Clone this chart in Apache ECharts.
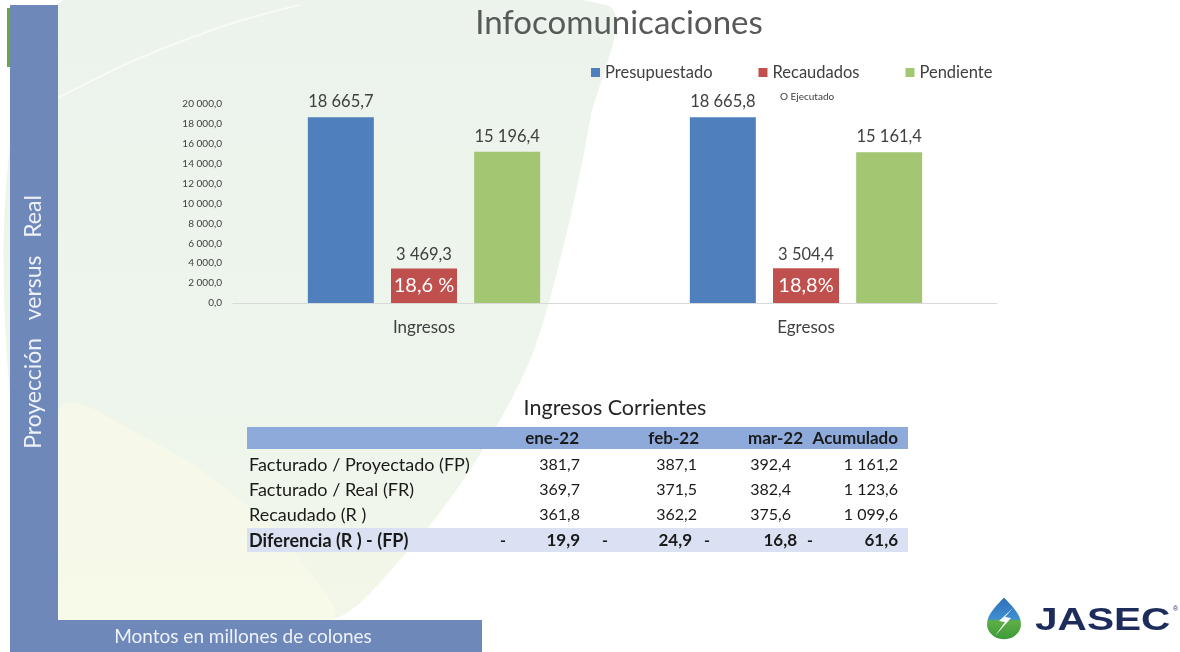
<!DOCTYPE html>
<html>
<head>
<meta charset="utf-8">
<script src="https://cdn.jsdelivr.net/npm/echarts@6/dist/echarts.min.js"></script>
<style>html,body{margin:0;padding:0;background:#fff}#c{width:1180px;height:652px}</style>
</head>
<body>
<div id="c"></div>
<script>
// ---- chart data ----
const categories = ['Ingresos', 'Egresos'];
const seriesNames = ['Presupuestado', 'Recaudados', 'Pendiente'];
const presupuestado = [18665.7, 18665.8];
const recaudados = [3469.3, 3504.4];
const pendiente = [15196.4, 15161.4];
const recaudadoPct = ['18,6 %', '18,8%'];
const yMin = 0, yMax = 20000, yInterval = 2000;

// ---- table data ----
const tableTitle = 'Ingresos Corrientes';
const tableCols = ['ene-22', 'feb-22', 'mar-22', 'Acumulado'];
const tableRowNames = ['Facturado / Proyectado (FP)', 'Facturado / Real (FR)', 'Recaudado (R )'];
const facturadoProyectado = [381.7, 387.1, 392.4, 1161.2];
const facturadoReal = [369.7, 371.5, 382.4, 1123.6];
const recaudado = [361.8, 362.2, 375.6, 1099.6];
const diferenciaName = 'Diferencia (R ) - (FP)';
const diferencia = [-19.9, -24.9, -16.8, -61.6];

const FONT = 'Lato, "Open Sans", sans-serif';
const colors = ['#4f7fbc', '#c0504d', '#a3c673'];

function fmt(v, d) {
  const s = Math.abs(v).toFixed(d);
  let [ip, dp] = s.split('.');
  ip = ip.replace(/\B(?=(\d{3})+(?!\d))/g, ' ');
  return ip + (dp !== undefined ? ',' + dp : '');
}

const chart = echarts.init(document.getElementById('c'), null, {renderer: 'canvas'});

const g = [];
// background
g.push({type: 'rect', z: -10, shape: {x: 0, y: 0, width: 1180, height: 652}, style: {fill: '#ffffff'}});
g.push({type: 'polygon', z: -9, shape: {points: [[58, 5], [606, 5], [590, 120], [565, 240], [530, 360], [470, 470], [400, 560], [330, 620], [58, 620]], smooth: 0.3},
  style: {fill: {type: 'linear', x: 0, y: 0, x2: 0, y2: 1, colorStops: [{offset: 0, color: '#ebf3ec'}, {offset: 0.6, color: '#edf5ec'}, {offset: 1, color: '#f3f7e8'}]}}});
g.push({type: 'polygon', z: -9, shape: {points: [[58, 410], [150, 440], [240, 500], [300, 560], [330, 620], [58, 620]], smooth: 0.4},
  style: {fill: 'rgba(248,250,232,0.8)'}});
g.push({type: 'polyline', z: -8, shape: {points: [[58, 98], [140, 58], [230, 24], [300, 5]], smooth: 0.4}, style: {stroke: 'rgba(255,255,255,0.6)', lineWidth: 2, fill: null}});
// left band
g.push({type: 'rect', z: -5, shape: {x: 10, y: 5, width: 48, height: 647}, style: {fill: '#6e88b9'}});
g.push({type: 'rect', z: -5, shape: {x: 10, y: 620, width: 472, height: 32}, style: {fill: '#6e88b9'}});
g.push({type: 'rect', z: -5, shape: {x: 7, y: 8, width: 3, height: 59}, style: {fill: '#6aa83a'}});
g.push({type: 'text', rotation: Math.PI / 2, x: 34, y: 322, style: {text: 'Proyección   versus   Real', fill: '#eef2f8', font: '23px ' + FONT, textAlign: 'center', textVerticalAlign: 'middle'}});
g.push({type: 'text', x: 243, y: 637, style: {text: 'Montos en millones de colones', fill: '#eef2f8', font: '19px ' + FONT, textAlign: 'center', textVerticalAlign: 'middle'}});
// small note
g.push({type: 'text', x: 780, y: 97, style: {text: 'O Ejecutado', fill: '#404040', font: '10px ' + FONT, textAlign: 'left', textVerticalAlign: 'middle'}});

// table
g.push({type: 'text', x: 615, y: 408, style: {text: tableTitle, fill: '#262626', font: '21.5px ' + FONT, textAlign: 'center', textVerticalAlign: 'middle'}});
g.push({type: 'rect', shape: {x: 247, y: 427, width: 661, height: 22}, style: {fill: '#8eaadb'}});
g.push({type: 'rect', shape: {x: 247, y: 528, width: 661, height: 24}, style: {fill: '#d9e1f2'}});
const headRight = [579, 699, 803, 898];
tableCols.forEach((c, i) => g.push({type: 'text', x: headRight[i], y: 439, style: {text: c, fill: '#1a1a1a', font: 'bold 17px ' + FONT, textAlign: 'right', textVerticalAlign: 'middle'}}));
const valRight = [580, 697, 791, 898];
const rowsData = [facturadoProyectado, facturadoReal, recaudado];
const rowY = [465, 490, 515];
tableRowNames.forEach((n, r) => {
  g.push({type: 'text', x: 249, y: rowY[r], style: {text: n, fill: '#1a1a1a', font: '18px ' + FONT, textAlign: 'left', textVerticalAlign: 'middle'}});
  rowsData[r].forEach((v, i) => g.push({type: 'text', x: valRight[i], y: rowY[r], style: {text: fmt(v, 1), fill: '#1a1a1a', font: '16px ' + FONT, textAlign: 'right', textVerticalAlign: 'middle'}}));
});
g.push({type: 'text', x: 249, y: 541, style: {text: diferenciaName, fill: '#1a1a1a', font: 'bold 18px ' + FONT, textAlign: 'left', textVerticalAlign: 'middle'}});
const dashX = [503, 605, 707, 810];
const difRight = [580, 692, 797, 898];
diferencia.forEach((v, i) => {
  g.push({type: 'text', x: dashX[i], y: 541, style: {text: v < 0 ? '-' : '', fill: '#1a1a1a', font: 'bold 16px ' + FONT, textAlign: 'center', textVerticalAlign: 'middle'}});
  g.push({type: 'text', x: difRight[i], y: 541, style: {text: fmt(v, 1), fill: '#1a1a1a', font: 'bold 17px ' + FONT, textAlign: 'right', textVerticalAlign: 'middle'}});
});

// logo: droplet outline points
const drop = [];
for (let k = 0; k <= 40; k++) {
  const t = Math.PI * 2 * k / 40;
  const r = 17;
  const cx = 1004, cy = 624;
  let x = cx + r * Math.sin(t), y = cy + r * 0.9 * Math.cos(t);
  if (y < cy) {
    const f = (cy - y) / (r * 0.9);
    y = cy - f * 26;
    x = cx + (x - cx) * (1 - 0.75 * f * f);
  }
  drop.push([x, y]);
}
g.push({type: 'polygon', shape: {points: drop, smooth: 0},
  style: {fill: {type: 'linear', x: 0, y: 0, x2: 0, y2: 1, colorStops: [{offset: 0, color: '#2f6fb9'}, {offset: 0.5, color: '#3d8fd2'}, {offset: 0.56, color: '#5fae45'}, {offset: 1, color: '#3c9a3a'}]}}});
g.push({type: 'polygon', shape: {points: [[1013, 608], [999, 621], [1005, 622], [995, 636], [1011, 618], [1005, 617]]}, style: {fill: '#ffffff'}});
g.push({type: 'text', x: 1035, y: 621, scaleX: 1.31, originX: 0, originY: 0, style: {text: 'JASEC', fill: '#1d2c5b', font: 'bold 31px "Liberation Sans", Arial, sans-serif', textAlign: 'left', textVerticalAlign: 'middle'}});
g.push({type: 'text', x: 1173, y: 609, style: {text: '®', fill: '#1d2c5b', font: '7px sans-serif', textAlign: 'left', textVerticalAlign: 'middle'}});

const topLabel = {show: true, position: 'top', distance: 7, color: '#404040', fontSize: 16.5, fontFamily: FONT, formatter: p => fmt(p.value, 1)};

chart.setOption({
  backgroundColor: '#ffffff',
  animation: false,
  color: colors,
  title: {text: 'Infocomunicaciones', left: 614, top: 2, textAlign: 'center',
    textStyle: {fontSize: 33, fontWeight: 'normal', color: '#595959', fontFamily: FONT}},
  legend: {data: seriesNames, left: 586, top: 59, icon: 'rect', itemWidth: 9, itemHeight: 9, itemGap: 46,
    textStyle: {fontSize: 16.5, color: '#404040', fontFamily: FONT}},
  grid: {left: 233, right: 183, top: 104, bottom: 349, containLabel: false},
  xAxis: {type: 'category', data: categories,
    axisLine: {lineStyle: {color: '#d9d9d9'}}, axisTick: {show: false},
    axisLabel: {fontSize: 17, color: '#404040', margin: 16, fontFamily: FONT}},
  yAxis: {type: 'value', min: yMin, max: yMax, interval: yInterval,
    axisLine: {show: false}, axisTick: {show: false}, splitLine: {show: false},
    axisLabel: {fontSize: 10, color: '#404040', margin: 11, fontFamily: FONT, formatter: v => fmt(v, 1)}},
  series: [
    {name: seriesNames[0], type: 'bar', data: presupuestado, barWidth: 66, barGap: '26%', label: topLabel},
    {name: seriesNames[1], type: 'bar', data: recaudados, barWidth: 66,
      label: {show: true, position: 'insideBottom', distance: 0, fontFamily: FONT,
        formatter: p => '{a|' + fmt(p.value, 1) + '}\n{b|' + recaudadoPct[p.dataIndex] + '}',
        rich: {a: {fontSize: 16.5, color: '#404040', lineHeight: 28, fontFamily: FONT},
               b: {fontSize: 20, color: '#ffffff', lineHeight: 34, fontFamily: FONT}}}},
    {name: seriesNames[2], type: 'bar', data: pendiente, barWidth: 66, label: topLabel}
  ],
  graphic: {elements: g}
});
</script>
</body>
</html>
